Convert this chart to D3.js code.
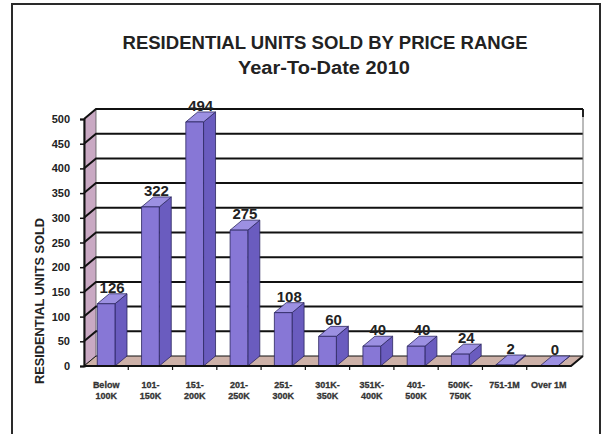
<!DOCTYPE html>
<html><head><meta charset="utf-8">
<script src="https://cdn.jsdelivr.net/npm/d3@7"></script>
<style>body{margin:0;background:#fff}svg{display:block}</style>
</head><body>
<script>
const categories = ["Below 100K","101-150K","151-200K","201-250K","251-300K","301K-350K","351K-400K","401-500K","500K-750K","751-1M","Over 1M"];
const categoryLines = [["Below","100K"],["101-","150K"],["151-","200K"],["201-","250K"],["251-","300K"],["301K-","350K"],["351K-","400K"],["401-","500K"],["500K-","750K"],["751-1M"],["Over 1M"]];
const unitsSold = [126,322,494,275,108,60,40,40,24,2,0];
const yTicks = [0,50,100,150,200,250,300,350,400,450,500];
const title = "RESIDENTIAL UNITS SOLD BY PRICE RANGE";
const subtitle = "Year-To-Date 2010";
const yTitle = "RESIDENTIAL UNITS SOLD";

const W = 605, H = 434;
const svg = d3.select("body").append("svg").attr("width", W).attr("height", H);
const font = "'Liberation Sans', Arial, sans-serif";

// frame
svg.append("rect").attr("x",12).attr("y",4).attr("width",588).attr("height",440)
  .attr("fill","#fff").attr("stroke","#2a2a2a").attr("stroke-width",2);

const DX = 12, DY = -10;
const x0 = 84, x1 = 571;
const y = d3.scaleLinear().domain([0,500]).range([366,119]);
const xb = d3.scaleBand().domain(categories).range([x0,x1]).paddingInner(0.6).paddingOuter(0.3);
const xc = d3.scaleBand().domain(categories).range([x0,x1]).padding(0);

// side wall
svg.append("polygon")
  .attr("points",[[x0,y(0)],[x0,y(500)],[x0+DX,y(500)+DY],[x0+DX,y(0)+DY]].map(p=>p.join(",")).join(" "))
  .attr("fill","#c9a9c3").attr("stroke","#555").attr("stroke-width",0.8);
// floor
svg.append("polygon")
  .attr("points",[[x0,y(0)],[x1,y(0)],[x1+DX,y(0)+DY],[x0+DX,y(0)+DY]].map(p=>p.join(",")).join(" "))
  .attr("fill","#cdb1a8").attr("stroke","none");

// gridlines (side wall diagonal + back wall)
const gl = svg.append("g");
yTicks.forEach(t=>{
  gl.append("polyline")
    .attr("points",[[x0,y(t)],[x0+DX,y(t)+DY],[x1+DX,y(t)+DY]].map(p=>p.join(",")).join(" "))
    .attr("fill","none").attr("stroke","#111").attr("stroke-width",t===0?1:2);
});
// back wall right edge
gl.append("line").attr("x1",x1+DX).attr("x2",x1+DX).attr("y1",y(500)+DY).attr("y2",y(0)+DY)
  .attr("stroke","#777").attr("stroke-width",1);
gl.append("line").attr("x1",x1+DX).attr("x2",x1+DX).attr("y1",y(500)+DY).attr("y2",y(500)+DY+8)
  .attr("stroke","#111").attr("stroke-width",1.8);

// bars
const bars = svg.append("g");
categories.forEach((c,i)=>{
  const v = unitsSold[i];
  const bx = xb(c), bw = xb.bandwidth();
  const yt = y(v), yb = y(0);
  const g = bars.append("g").attr("stroke","#2b2660").attr("stroke-width",0.8).attr("stroke-linejoin","round");
  g.append("polygon").attr("points",[[bx+bw,yb],[bx+bw,yt],[bx+bw+DX,yt+DY],[bx+bw+DX,yb+DY]].map(p=>p.join(",")).join(" "))
    .attr("fill","#6a5cbf");
  g.append("polygon").attr("points",[[bx,yt],[bx+bw,yt],[bx+bw+DX,yt+DY],[bx+DX,yt+DY]].map(p=>p.join(",")).join(" "))
    .attr("fill","#9c90e2");
  g.append("rect").attr("x",bx).attr("y",yt).attr("width",bw).attr("height",Math.max(0.5,yb-yt))
    .attr("fill","#8777d6");
});

// axes
const yAxis = d3.axisLeft(y).tickValues(yTicks).tickSize(4).tickPadding(10);
const ya = svg.append("g").attr("transform",`translate(${x0},0)`).call(yAxis);
ya.select(".domain").attr("stroke","#111").attr("stroke-width",2);
ya.selectAll(".tick line").attr("stroke","#111").attr("stroke-width",1.5);
ya.selectAll(".tick text").attr("font-family",font).attr("font-weight","bold").attr("font-size",11).attr("fill","#222");

// category axis
svg.append("polyline")
  .attr("points",[[x0,y(0)],[x1,y(0)],[x1+DX,y(0)+DY]].map(p=>p.join(",")).join(" "))
  .attr("fill","none").attr("stroke","#111").attr("stroke-width",2);
categories.forEach((c,i)=>{
  if(i>0) svg.append("line").attr("x1",xc(c)).attr("x2",xc(c)).attr("y1",y(0)).attr("y2",y(0)+4)
    .attr("stroke","#111").attr("stroke-width",1.2);
  const cx = xc(c)+xc.bandwidth()/2;
  const t = svg.append("text").attr("x",cx).attr("y",388)
    .attr("text-anchor","middle").attr("font-family",font).attr("font-weight","bold")
    .attr("font-size",9).attr("fill","#333").attr("stroke","#333").attr("stroke-width",0.3);
  categoryLines[i].forEach((ln,j)=>t.append("tspan").attr("x",cx).attr("dy",j?11:0).text(ln));
});

// value labels
categories.forEach((c,i)=>{
  svg.append("text").attr("x",xb(c)+xb.bandwidth()/2+DX/2).attr("y",y(unitsSold[i])-11)
    .attr("text-anchor","middle").attr("font-family",font).attr("font-weight","bold")
    .attr("font-size",15).attr("fill","#222").text(unitsSold[i]);
});

// titles
svg.append("text").attr("x",325).attr("y",49).attr("text-anchor","middle")
  .attr("font-family",font).attr("font-weight","bold").attr("font-size",18).attr("fill","#222")
  .attr("textLength",405).attr("lengthAdjust","spacingAndGlyphs").text(title);
svg.append("text").attr("x",324).attr("y",74).attr("text-anchor","middle")
  .attr("font-family",font).attr("font-weight","bold").attr("font-size",18).attr("fill","#222")
  .attr("textLength",172).attr("lengthAdjust","spacingAndGlyphs").text(subtitle);
svg.append("text").attr("transform","translate(44,301) rotate(-90)").attr("text-anchor","middle")
  .attr("font-family",font).attr("font-weight","bold").attr("font-size",12).attr("fill","#222")
  .attr("textLength",166).attr("lengthAdjust","spacingAndGlyphs").text(yTitle);
</script>
</body></html>
